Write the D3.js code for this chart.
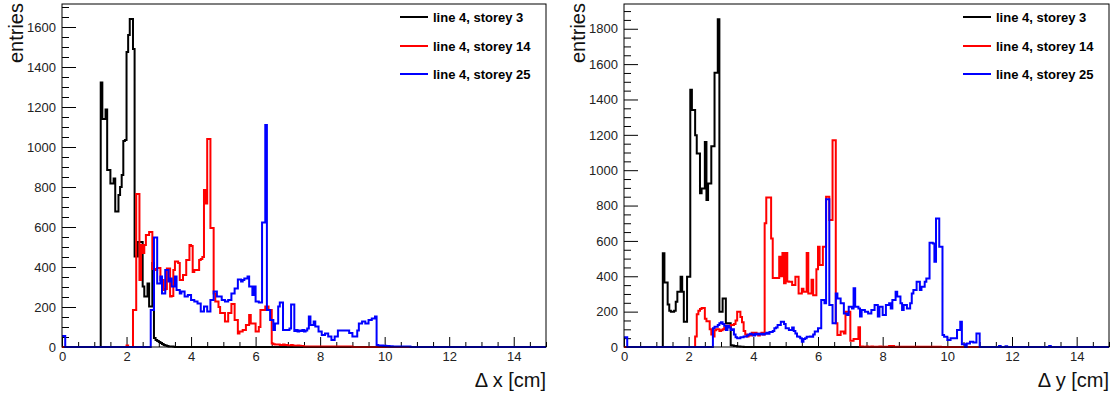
<!DOCTYPE html>
<html>
<head>
<meta charset="utf-8">
<script src="https://cdn.jsdelivr.net/npm/d3@7"></script>
<style>
  body { margin: 0; background: #fff; }
  text { font-family: "Liberation Sans", Arial, sans-serif; }
</style>
</head>
<body>
<svg id="chart" width="1111" height="396"></svg>
<script>
// histogram binning (cm)
const binWidth = 0.05;
const xDomain = [0, 15];

const legendLabels = ['line 4, storey 3', 'line 4, storey 14', 'line 4, storey 25'];
const seriesColors = ['#000000', '#ff0000', '#0000ff'];

// each series is a list of chunks: [low edge of first bin, counts per 0.05 cm bin]
// --- delta x ---
const dxStorey3 = [[1.20, [1322, 1140, 1140, 1188, 885, 885, 818, 818, 843, 677, 677, 760, 800, 860, 1030, 1035,
  1475, 1560, 1640, 1640, 1490, 452, 452, 525, 525, 525, 302, 252, 252, 318, 202, 202, 420, 45, 35, 30, 25, 20,
  15, 10, 8, 5, 3, 2, 2, 1]]];
const dxStorey14 = [[2.00, [8]], [2.20, [185, 185, 765, 765, 335, 510, 470, 510, 560, 560, 575, 575,
  390, 390, 385, 395, 395, 335, 335, 285, 290, 393, 393, 252, 255, 385, 427, 427, 420, 335, 335, 360, 360, 435,
  435, 510, 505, 375, 385, 385, 385, 435, 440, 450,
  785, 718, 1040, 1040, 595, 595, 268, 227, 227, 200, 170, 170, 170, 127, 127, 170, 170, 215, 215, 135, 135,
  68, 77, 77, 85, 85, 110, 110, 160, 118, 118, 118, 77, 77, 100, 185, 185, 185, 202, 202, 185, 185,
  18, 14, 12, 12, 12, 10, 10, 12, 10, 10, 8, 8, 10, 8, 6, 6, 8, 6, 5, 5,
  3, 3, 3, 3, 3, 3, 3, 3, 3, 3, 3, 3, 3, 3, 3, 3, 3, 3, 3, 3, 3, 3, 3, 3, 3, 3, 3, 3, 3, 3]]];
const dxStorey25 = [[0.00, [55, 55]], [2.75, [185, 185, 548, 548, 318, 318, 352, 268, 268, 385, 385, 327, 343,
  302, 302, 352, 285, 285, 268, 277, 277, 252, 252, 260, 260, 235, 235, 227, 227, 218, 218, 177, 177, 202, 202,
  177, 177, 235, 235, 277, 277, 252, 252, 252, 235, 235, 227, 227, 235, 235, 268, 268, 293, 293, 338, 338, 327,
  335, 343, 343, 352, 302, 302, 260, 302, 227, 227, 222, 222, 622, 622, 1110, 185, 185, 135, 135, 85, 118, 118,
  202, 222, 222, 85, 85, 85, 85, 93, 213, 213, 80, 85, 77, 82, 80, 85, 77, 82, 93, 152, 110, 110, 127, 102, 102,
  77, 77, 60, 60, 68, 68, 52, 52, 35, 35, 52, 52, 82, 82, 82, 82, 82, 82, 82, 70, 70, 52, 52, 52, 82, 118, 118,
  127, 127, 118, 118, 135, 135, 143, 143, 152, 10, 8, 6, 8, 5, 6, 4, 5, 3, 4, 3, 2, 2, 2, 2, 2, 2, 2, 2, 2, 2]]];

// --- delta y ---
const dyStorey3 = [[1.20, [530, 365, 365, 240, 205, 200, 200, 205, 256, 313, 313, 397, 313, 143, 143, 397, 397,
  1455, 1340, 1340, 1198, 1095, 1095, 869, 897, 897, 1160, 831, 925, 925, 1136, 1136, 1551, 1551, 1854,
  200, 200, 275, 275, 134, 134, 134, 10, 8, 5, 5, 3, 3, 2, 2]]];
const dyStorey14 = [[2.20, [60, 185, 205, 215, 220, 220, 160, 145, 145, 100, 70, 60, 95, 100, 100, 90, 95, 100,
  110, 120, 120, 115, 125, 125, 130, 150, 200, 200, 170, 140, 90, 70, 60, 65, 65, 80, 70, 80, 75, 65, 75, 80, 70,
  700, 846, 846, 846, 613, 390, 390, 390, 390, 510, 400, 531, 360, 531, 370, 369, 369, 350, 350, 397, 397, 303,
  303, 330, 312, 312, 531, 303, 303, 380, 293, 293, 440, 567, 464, 464, 567, 567, 850, 850, 718, 718, 1170, 1170,
  134, 68, 68, 87, 87, 77, 200, 200, 200, 35, 35, 45, 45, 45, 112,
  3, 3, 2, 2, 3, 2, 2, 3, 2, 2, 2, 2, 3, 2, 2, 2, 2, 2, 5, 3, 5, 2, 2, 2, 2, 2, 2, 2, 2, 2,
  2, 2, 2, 2, 2, 2, 2, 2, 2, 2, 2, 2, 2, 2, 2, 2, 2, 2, 2, 2]]];
const dyStorey25 = [[0.00, [55, 55]], [2.75, [106, 115, 115, 124, 134, 140, 130, 120, 96, 120, 110, 96, 100, 70,
  55, 50, 50, 55, 55, 60, 60, 65, 70, 75, 70, 65, 75, 70, 75, 70, 75, 70, 75, 80, 75, 85, 85, 90, 106, 110, 124,
  124, 143, 143, 130, 106, 106, 96, 96, 110, 90, 77, 60, 58, 49, 30, 45, 49, 58, 58, 60, 58, 70, 87, 87, 106, 106,
  266, 266, 247,
  835, 835, 237, 237, 134, 134, 303, 275, 275, 247, 247, 190, 190, 181, 228, 228, 218, 332, 228, 228, 218, 172,
  209, 209, 200, 200, 190, 190, 209, 209, 237, 237, 172, 228, 228, 181, 181, 237, 237, 247, 218, 266, 266, 313,
  285, 285, 247, 209, 237, 237, 218, 218, 247, 303, 322, 322, 369, 369, 322, 341, 341, 369, 387, 387, 590, 590,
  585, 482, 727, 727, 567, 567, 68, 58, 58, 40, 40, 50, 50, 50, 50, 96, 96, 143, 15, 15, 0, 20, 20, 30, 30, 25,
  25, 77, 77]], [11.60, [5]], [11.80, [4]], [13.15, [5]]];

const yTicksDx = [0, 200, 400, 600, 800, 1000, 1200, 1400, 1600];
const yTicksDy = [0, 200, 400, 600, 800, 1000, 1200, 1400, 1600, 1800];
const xTicks = [0, 2, 4, 6, 8, 10, 12, 14];

const panels = [
  { left: 62, right: 546, top: 4, bottom: 347, yMax: 1715, yTicks: yTicksDx,
    series: [dxStorey3, dxStorey14, dxStorey25], xTitle: '\u0394 x [cm]', legendX: 400 },
  { left: 624, right: 1109, top: 4, bottom: 347, yMax: 1940, yTicks: yTicksDy,
    series: [dyStorey3, dyStorey14, dyStorey25], xTitle: '\u0394 y [cm]', legendX: 963 }
];

const nBins = Math.round((xDomain[1] - xDomain[0]) / binWidth);

function fillBins(chunks) {
  const counts = new Array(nBins).fill(0);
  chunks.forEach(([x0, vals]) => {
    const k0 = Math.round(x0 / binWidth);
    vals.forEach((v, i) => { if (k0 + i < nBins) counts[k0 + i] = v; });
  });
  return counts;
}

const svg = d3.select('#chart');

panels.forEach(p => {
  const x = d3.scaleLinear().domain(xDomain).range([p.left, p.right]);
  const y = d3.scaleLinear().domain([0, p.yMax]).range([p.bottom, p.top]);
  const g = svg.append('g');

  // minor ticks
  const yMinor = d3.range(0, p.yMax, 50).filter(v => v % 200 !== 0);
  const xMinor = d3.range(0, 15.01, 0.5).filter(v => v % 2 !== 0);
  g.append('g').attr('transform', `translate(${p.left},0)`)
    .call(d3.axisLeft(y).tickValues(yMinor).tickSize(-7).tickFormat(''));
  g.append('g').attr('transform', `translate(0,${p.bottom})`)
    .call(d3.axisBottom(x).tickValues(xMinor).tickSize(-5).tickFormat(''));

  // major ticks + labels
  g.append('g').attr('class', 'yaxis').attr('transform', `translate(${p.left},0)`)
    .call(d3.axisLeft(y).tickValues(p.yTicks).tickSize(-14).tickPadding(6).tickFormat(d3.format('d')));
  g.append('g').attr('class', 'xaxis').attr('transform', `translate(0,${p.bottom})`)
    .call(d3.axisBottom(x).tickValues(xTicks).tickSize(-10).tickPadding(5).tickFormat(d3.format('d')));

  g.selectAll('.domain').remove();
  g.selectAll('.tick line').attr('stroke', '#000');
  g.selectAll('.tick text').attr('font-size', 13).attr('fill', '#222')
    .style('font-family', '"Liberation Sans", Arial, sans-serif');

  // histograms, drawn black -> red -> blue
  const line = d3.line().curve(d3.curveStepAfter).x(d => x(d[0])).y(d => y(d[1]));
  p.series.forEach((chunks, si) => {
    const counts = fillBins(chunks);
    const pts = counts.map((c, i) => [i * binWidth, c]);
    pts.push([xDomain[1], counts[nBins - 1]]);
    g.append('path').datum(pts)
      .attr('d', line)
      .attr('fill', 'none')
      .attr('stroke', seriesColors[si])
      .attr('stroke-width', 2)
      .attr('stroke-linejoin', 'miter');
  });

  // frame
  g.append('rect')
    .attr('x', p.left).attr('y', p.top)
    .attr('width', p.right - p.left).attr('height', p.bottom - p.top)
    .attr('fill', 'none').attr('stroke', '#000').attr('stroke-width', 1);

  // axis titles
  g.append('text')
    .attr('transform', `translate(${p.left - 39},${p.top - 1}) rotate(-90)`)
    .attr('text-anchor', 'end').attr('font-size', 20).attr('fill', '#111')
    .text('entries');
  g.append('text')
    .attr('x', p.right).attr('y', 387)
    .attr('text-anchor', 'end').attr('font-size', 20).attr('fill', '#111')
    .text(p.xTitle);

  // legend
  const rowsY = [17, 46, 74];
  legendLabels.forEach((lab, i) => {
    g.append('line')
      .attr('x1', p.legendX).attr('x2', p.legendX + 28)
      .attr('y1', rowsY[i]).attr('y2', rowsY[i])
      .attr('stroke', seriesColors[i]).attr('stroke-width', 2);
    g.append('text')
      .attr('x', p.legendX + 33).attr('y', rowsY[i] + 4.5)
      .attr('font-size', 13).attr('font-weight', 'bold').attr('fill', '#000')
      .text(lab);
  });
});
</script>
</body>
</html>
